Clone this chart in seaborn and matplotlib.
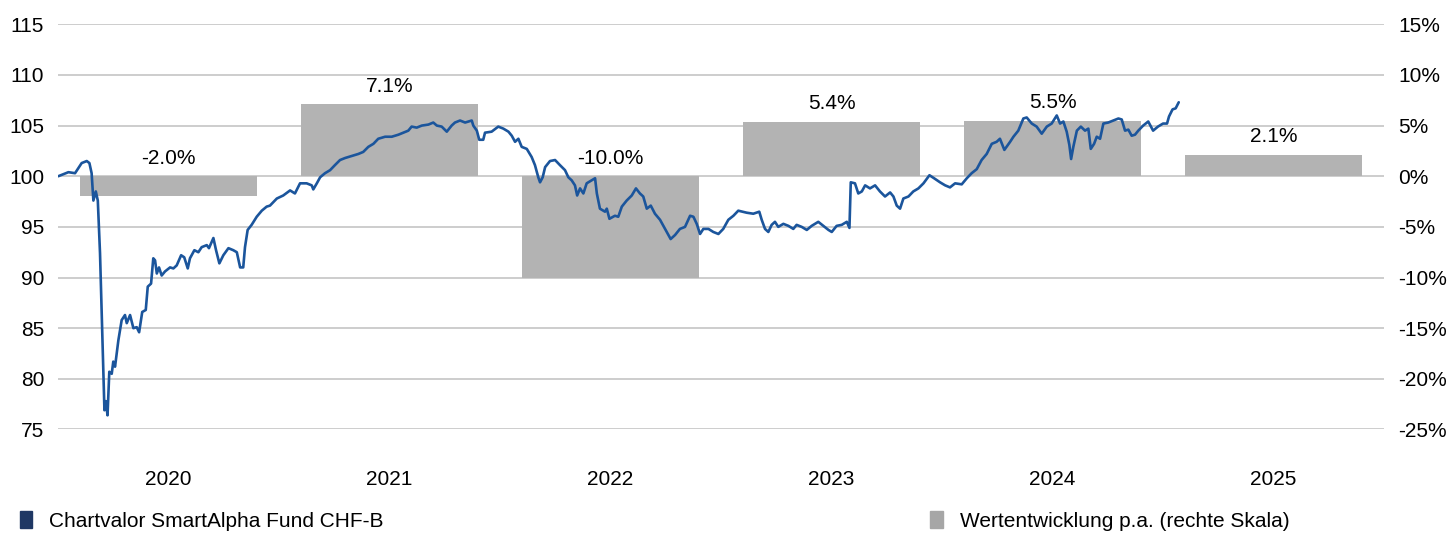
import matplotlib
matplotlib.use("Agg")
import matplotlib.pyplot as plt
from matplotlib.patches import Patch
import pandas as pd
import seaborn as sns

# Annual performance (right axis, %)
years = [2020, 2021, 2022, 2023, 2024, 2025]
perf = [-2.0, 7.1, -10.0, 5.4, 5.5, 2.1]

# Fund price (left axis), position in years since 1 Jan 2020
fund_pos = [
    0.001, 0.047, 0.077, 0.107, 0.130, 0.142, 0.152, 0.160, 0.171, 0.180,
    0.190, 0.199, 0.210, 0.216, 0.224, 0.232, 0.243, 0.250, 0.258, 0.273,
    0.288, 0.303, 0.311, 0.326, 0.341, 0.356, 0.367, 0.381, 0.397, 0.406,
    0.421, 0.431, 0.439, 0.447, 0.457, 0.469, 0.484, 0.507, 0.522, 0.537,
    0.557, 0.571, 0.587, 0.597, 0.617, 0.635, 0.650, 0.673, 0.683, 0.703,
    0.715, 0.730, 0.748, 0.771, 0.793, 0.809, 0.824, 0.838, 0.846, 0.858,
    0.876, 0.899, 0.922, 0.944, 0.959, 0.990, 1.019, 1.050, 1.072, 1.095,
    1.125, 1.148, 1.155, 1.171, 1.186, 1.208, 1.231, 1.253, 1.276, 1.299,
    1.329, 1.359, 1.381, 1.404, 1.427, 1.449, 1.480, 1.510, 1.540, 1.562,
    1.585, 1.600, 1.623, 1.646, 1.676, 1.698, 1.714, 1.736, 1.759, 1.781,
    1.796, 1.819, 1.842, 1.872, 1.879, 1.895, 1.906, 1.924, 1.932, 1.962,
    1.992, 2.015, 2.038, 2.053, 2.068, 2.083, 2.098, 2.121, 2.143, 2.158,
    2.173, 2.181, 2.193, 2.204, 2.226, 2.249, 2.271, 2.294, 2.309, 2.324,
    2.339, 2.349, 2.362, 2.377, 2.392, 2.415, 2.430, 2.438, 2.452, 2.475,
    2.483, 2.495, 2.520, 2.535, 2.551, 2.573, 2.596, 2.615, 2.633, 2.648,
    2.664, 2.682, 2.701, 2.724, 2.747, 2.772, 2.792, 2.814, 2.837, 2.860,
    2.875, 2.890, 2.905, 2.920, 2.943, 2.965, 2.988, 3.010, 3.033, 3.056,
    3.078, 3.116, 3.146, 3.173, 3.184, 3.199, 3.214, 3.229, 3.244, 3.259,
    3.282, 3.305, 3.327, 3.342, 3.365, 3.388, 3.410, 3.440, 3.463, 3.486,
    3.501, 3.523, 3.546, 3.569, 3.581, 3.587, 3.606, 3.621, 3.637, 3.652,
    3.674, 3.697, 3.719, 3.742, 3.765, 3.780, 3.795, 3.810, 3.825, 3.848,
    3.870, 3.893, 3.916, 3.943, 3.964, 3.991, 4.014, 4.036, 4.059, 4.089,
    4.112, 4.134, 4.157, 4.179, 4.202, 4.225, 4.247, 4.262, 4.282, 4.308,
    4.323, 4.345, 4.368, 4.383, 4.406, 4.428, 4.451, 4.474, 4.496, 4.519,
    4.534, 4.549, 4.564, 4.576, 4.584, 4.594, 4.610, 4.628, 4.647, 4.662,
    4.673, 4.688, 4.700, 4.715, 4.730, 4.752, 4.775, 4.798, 4.813, 4.828,
    4.843, 4.858, 4.873, 4.888, 4.910, 4.933, 4.955, 4.977, 5.000, 5.018,
    5.027, 5.043, 5.057, 5.071,
]
fund_value = [
    100.0, 100.4, 100.3, 101.3, 101.5, 101.3, 100.3, 97.6, 98.5, 97.6,
    92.4, 85.5, 76.9, 77.8, 76.4, 80.7, 80.5, 81.7, 81.2, 83.8,
    85.8, 86.3, 85.5, 86.3, 85.0, 85.1, 84.6, 86.6, 86.8, 89.1,
    89.4, 91.9, 91.7, 90.4, 91.0, 90.2, 90.6, 91.0, 90.9, 91.2,
    92.2, 92.0, 90.9, 91.9, 92.7, 92.5, 93.0, 93.2, 92.9, 93.9,
    92.7, 91.4, 92.2, 92.9, 92.7, 92.5, 91.0, 91.0, 93.0, 94.7,
    95.2, 96.0, 96.6, 97.0, 97.1, 97.8, 98.1, 98.6, 98.3, 99.3,
    99.3, 99.1, 98.7, 99.3, 99.9, 100.3, 100.6, 101.1, 101.6, 101.8,
    102.0, 102.2, 102.4, 102.9, 103.2, 103.7, 103.9, 103.9, 104.1, 104.3,
    104.5, 104.9, 104.8, 105.0, 105.1, 105.3, 105.0, 104.9, 104.4, 105.0,
    105.3, 105.5, 105.3, 105.5, 105.0, 104.5, 103.6, 103.6, 104.3, 104.4,
    104.9, 104.7, 104.4, 104.0, 103.4, 103.7, 102.9, 102.7, 101.9, 101.1,
    99.9, 99.4, 99.9, 100.9, 101.5, 101.6, 101.1, 100.6, 99.9, 99.6,
    99.1, 98.1, 98.8, 98.3, 99.3, 99.6, 99.8, 98.3, 96.8, 96.5,
    96.8, 95.8, 96.1, 96.0, 97.0, 97.6, 98.1, 98.8, 98.3, 98.0,
    96.8, 97.1, 96.3, 95.7, 94.8, 93.8, 94.2, 94.8, 95.0, 96.1,
    96.0, 95.3, 94.3, 94.8, 94.8, 94.5, 94.3, 94.8, 95.7, 96.1,
    96.6, 96.4, 96.3, 96.5, 95.7, 94.8, 94.5, 95.2, 95.5, 95.0,
    95.3, 95.1, 94.8, 95.2, 95.0, 94.7, 95.1, 95.5, 95.1, 94.7,
    94.5, 95.1, 95.2, 95.5, 94.9, 99.4, 99.3, 98.3, 98.5, 99.1,
    98.8, 99.1, 98.5, 98.0, 98.4, 98.0, 97.1, 96.8, 97.8, 98.0,
    98.5, 98.8, 99.3, 100.1, 99.8, 99.4, 99.1, 98.9, 99.3, 99.2,
    99.8, 100.3, 100.7, 101.6, 102.2, 103.2, 103.4, 103.7, 102.6, 103.4,
    103.9, 104.5, 105.7, 105.8, 105.2, 104.9, 104.2, 104.9, 105.2, 106.0,
    105.2, 105.4, 104.4, 103.1, 101.7, 102.9, 104.5, 104.9, 104.5, 104.7,
    102.7, 103.2, 103.9, 103.7, 105.2, 105.3, 105.5, 105.7, 105.6, 104.5,
    104.6, 104.0, 104.1, 104.5, 105.0, 105.4, 104.5, 104.9, 105.2, 105.2,
    105.9, 106.6, 106.7, 107.3,
]

price = pd.DataFrame({"x": [2020 + p for p in fund_pos], "value": fund_value})
bars = pd.DataFrame({"x": [y + 0.5 for y in years], "perf": perf})

sns.set_style("white")
plt.rcParams["font.family"] = ["Liberation Sans", "DejaVu Sans"]
plt.rcParams["text.color"] = "black"
plt.rcParams["xtick.color"] = "black"
plt.rcParams["ytick.color"] = "black"

LINE_COLOR = "#1b559c"
BAR_COLOR = "#b3b3b3"
GRID_COLOR = "#c9c9c9"
FS = 15

fig = plt.figure(figsize=(14.47, 5.36), dpi=100)
ax = fig.add_axes([0.0401, 0.1987, 0.9164, 0.7560])
ax2 = ax.twinx()

# Bars on the right axis, gridlines drawn under them
sns.barplot(
    bars, x="x", y="perf", ax=ax2, native_scale=True,
    color=BAR_COLOR, saturation=1, errorbar=None, linewidth=0, width=0.8,
)
ax2.set_ylim(-25, 15)
ax2.set_yticks(range(-25, 16, 5))
ax2.set_yticklabels([f"{v}%" for v in range(-25, 16, 5)])
ax2.yaxis.grid(True, color=GRID_COLOR, linewidth=1.3)
ax2.set_axisbelow(True)
ax2.set(xlabel=None, ylabel=None)

for xv, v in zip(bars["x"], bars["perf"]):
    ax2.annotate(
        f"{v:.1f}%", (xv, max(v, 0)), xytext=(0, 13), textcoords="offset points",
        ha="center", va="center", fontsize=FS,
    )

# Price line on the left axis, on top
sns.lineplot(price, x="x", y="value", ax=ax, color=LINE_COLOR, linewidth=1.9)
ax.set_zorder(ax2.get_zorder() + 1)
ax.patch.set_visible(False)
ax.set_ylim(75, 115)
ax.set_yticks(range(75, 116, 5))
ax.set_xlim(2020, 2026)
ax.set_xticks([y + 0.5 for y in years])
ax.set_xticklabels([str(y) for y in years])
ax.set(xlabel=None, ylabel=None)

for a in (ax, ax2):
    for s in a.spines.values():
        s.set_visible(False)
ax.tick_params(axis="y", length=0, pad=10, labelsize=FS)
ax.tick_params(axis="x", length=0, pad=29, labelsize=FS)
ax2.tick_params(axis="y", length=0, pad=10, labelsize=FS)

# Legend entries along the bottom
legend_kw = dict(
    loc="center left", frameon=False, fontsize=FS, handlelength=0.6,
    handleheight=0.9, handletextpad=0.8, borderpad=0, borderaxespad=0,
)
fig.legend(
    handles=[Patch(color="#1f3864", label="Chartvalor SmartAlpha Fund CHF-B")],
    bbox_to_anchor=(0.0138, 0.028), **legend_kw,
)
fig.legend(
    handles=[Patch(color="#a6a6a6", label="Wertentwicklung p.a. (rechte Skala)")],
    bbox_to_anchor=(0.643, 0.028), **legend_kw,
)

fig.savefig("out.png", dpi=100)
